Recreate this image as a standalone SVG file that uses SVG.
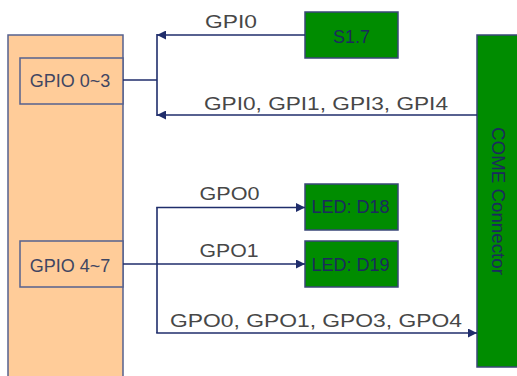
<svg xmlns="http://www.w3.org/2000/svg" width="517" height="376" viewBox="0 0 517 376">
  <style>
    .board { fill: #FFCC99; stroke: #56618f; stroke-width: 1.5; }
    .port { fill: #FFCC99; stroke: #56618f; stroke-width: 1.5; }
    .dev { fill: #008C00; stroke: #3a4778; stroke-width: 1.5; }
    .wire { fill: none; stroke: #1f2d6b; stroke-width: 1.6; }
    .lbl { font-family: "Liberation Sans", Arial, sans-serif; font-size: 19px; fill: #474747; }
    .ptxt { font-family: "Liberation Sans", Arial, sans-serif; font-size: 18px; fill: #3f4662; text-anchor: middle; }
    .dtxt { font-family: "Liberation Sans", Arial, sans-serif; font-size: 18px; fill: #1b2a5e; text-anchor: middle; }
  </style>
  <defs>
    <marker id="arr" viewBox="0 0 10 10" refX="10" refY="5" markerWidth="10" markerHeight="9" markerUnits="userSpaceOnUse" orient="auto">
      <path d="M0,0 L10,5 L0,10 z" fill="#1f2d6b"/>
    </marker>
  </defs>
  <rect width="517" height="376" fill="#ffffff"/>

  <g id="board">
    <rect class="board" x="8" y="35" width="115" height="350"/>
  </g>
  <g id="gpio03">
    <rect class="port" x="20" y="58" width="103" height="46"/>
    <text class="ptxt" x="70" y="87">GPIO 0~3</text>
  </g>
  <g id="gpio47">
    <rect class="port" x="20" y="241" width="103" height="46"/>
    <text class="ptxt" x="70" y="272">GPIO 4~7</text>
  </g>
  <g id="s17">
    <rect class="dev" x="305" y="12" width="93" height="46"/>
    <text class="dtxt" x="351.5" y="43">S1.7</text>
  </g>
  <g id="d18">
    <rect class="dev" x="305" y="184" width="93" height="46"/>
    <text class="dtxt" x="350.5" y="213">LED: D18</text>
  </g>
  <g id="d19">
    <rect class="dev" x="305" y="241" width="93" height="46"/>
    <text class="dtxt" x="350.5" y="270.5">LED: D19</text>
  </g>
  <g id="come">
    <rect class="dev" x="477" y="35" width="50" height="332"/>
    <text class="dtxt" transform="translate(492,201) rotate(90)" x="0" y="0" textLength="148" lengthAdjust="spacingAndGlyphs">COME Connector</text>
  </g>

  <g id="connectors">
    <line class="wire" x1="123" y1="80" x2="157" y2="80"/>
    <line class="wire" x1="157" y1="34" x2="157" y2="116"/>
    <line class="wire" x1="305" y1="35" x2="157" y2="35" marker-end="url(#arr)"/>
    <line class="wire" x1="477" y1="115" x2="157" y2="115" marker-end="url(#arr)"/>
    <line class="wire" x1="157" y1="207.5" x2="157" y2="333"/>
    <line class="wire" x1="123" y1="264" x2="305" y2="264" marker-end="url(#arr)"/>
    <line class="wire" x1="156.2" y1="207.5" x2="305" y2="207.5" marker-end="url(#arr)"/>
    <line class="wire" x1="156.2" y1="333" x2="477" y2="333" marker-end="url(#arr)"/>
    <text class="lbl" x="205" y="28" textLength="52" lengthAdjust="spacingAndGlyphs">GPI0</text>
    <text class="lbl" x="204" y="110" textLength="244" lengthAdjust="spacingAndGlyphs">GPI0, GPI1, GPI3, GPI4</text>
    <text class="lbl" x="199.5" y="200" textLength="60" lengthAdjust="spacingAndGlyphs">GPO0</text>
    <text class="lbl" x="199.5" y="257" textLength="59" lengthAdjust="spacingAndGlyphs">GPO1</text>
    <text class="lbl" x="170" y="327" textLength="292" lengthAdjust="spacingAndGlyphs">GPO0, GPO1, GPO3, GPO4</text>
  </g>
</svg>
